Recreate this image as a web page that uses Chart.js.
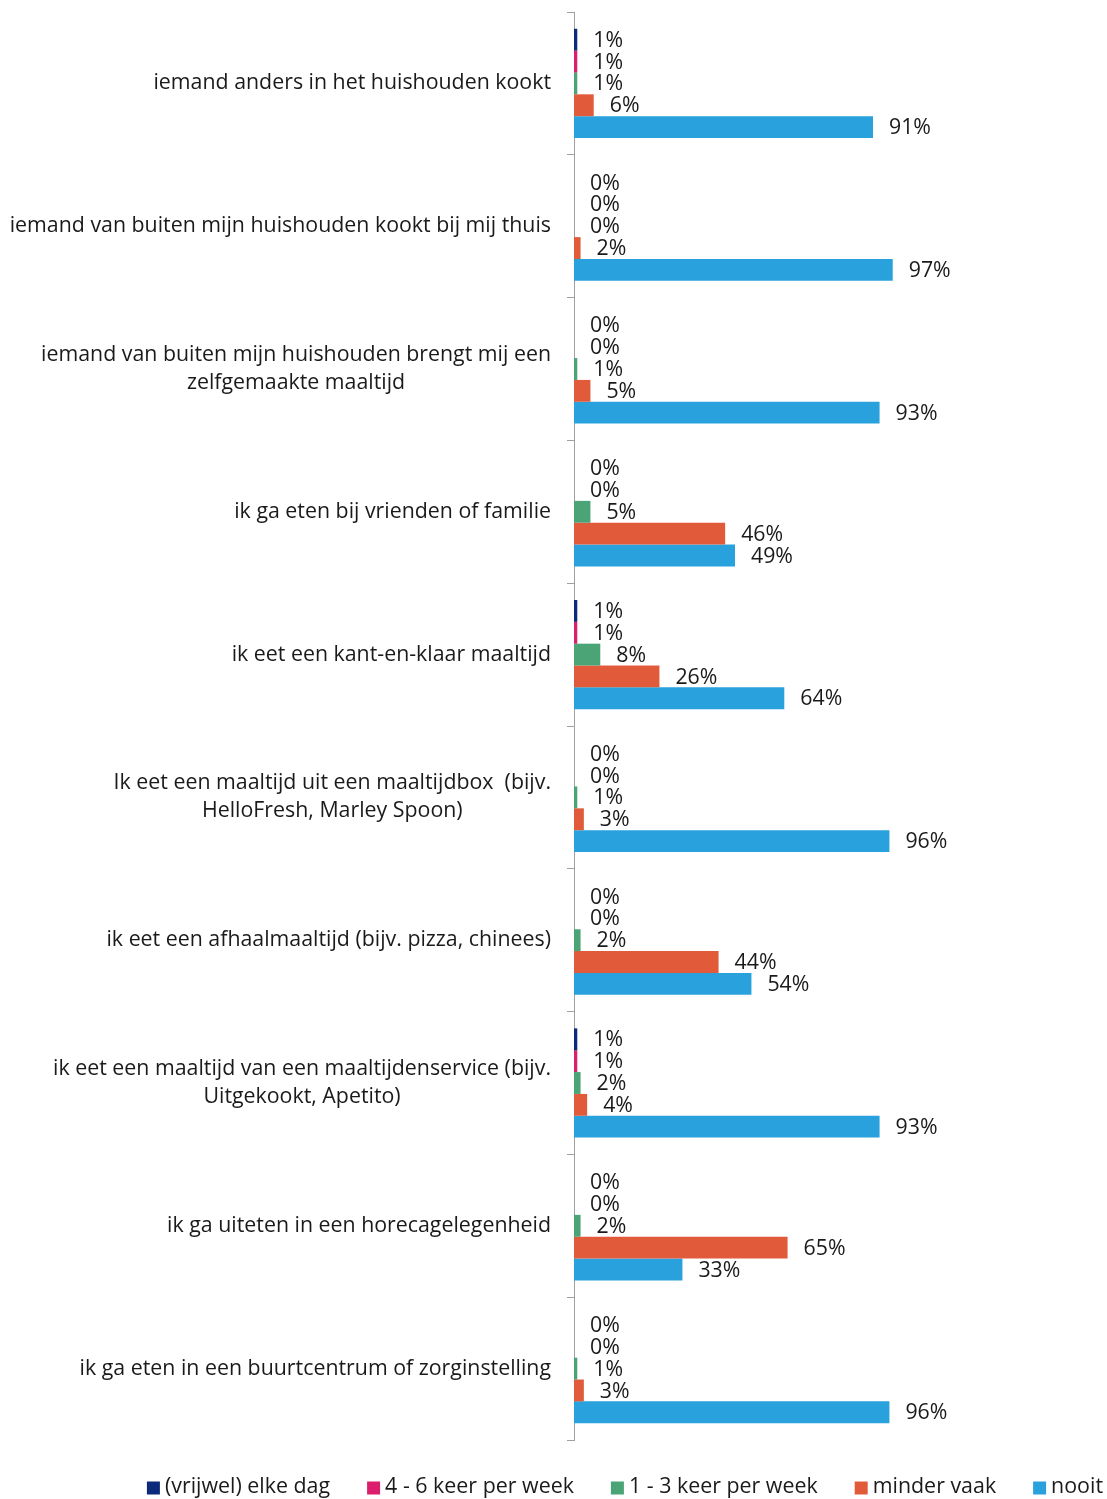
<!DOCTYPE html>
<html>
<head>
<meta charset="utf-8">
<script src="https://cdn.jsdelivr.net/npm/chart.js@4"></script>
<style>
  html, body { margin: 0; padding: 0; background: #fff; }
  #wrap { width: 1107px; height: 1499px; }
</style>
</head>
<body>
<div id="wrap"><canvas id="chart"></canvas></div>
<script>
// categorieën (meerdere regels waar het label te lang is)
const categories = [
  'iemand anders in het huishouden kookt',
  'iemand van buiten mijn huishouden kookt bij mij thuis',
  ['iemand van buiten mijn huishouden brengt mij een', 'zelfgemaakte maaltijd'],
  'ik ga eten bij vrienden of familie',
  'ik eet een kant-en-klaar maaltijd',
  ['Ik eet een maaltijd uit een maaltijdbox  (bijv.', 'HelloFresh, Marley Spoon)'],
  'ik eet een afhaalmaaltijd (bijv. pizza, chinees)',
  ['ik eet een maaltijd van een maaltijdenservice (bijv.', 'Uitgekookt, Apetito)'],
  'ik ga uiteten in een horecagelegenheid',
  'ik ga eten in een buurtcentrum of zorginstelling'
];

const seriesNames = ['(vrijwel) elke dag', '4 - 6 keer per week', '1 - 3 keer per week', 'minder vaak', 'nooit'];
const seriesColors = ['#0d2a7a', '#dc1f6c', '#4aa475', '#e15a3a', '#29a1dc'];

const elkeDag    = [1, 0, 0, 0, 1, 0, 0, 1, 0, 0];
const vierZes    = [1, 0, 0, 0, 1, 0, 0, 1, 0, 0];
const eenDrie    = [1, 0, 1, 5, 8, 1, 2, 2, 2, 1];
const minderVaak = [6, 2, 5, 46, 26, 3, 44, 4, 65, 3];
const nooit      = [91, 97, 93, 49, 64, 96, 54, 93, 33, 96];

const seriesValues = [elkeDag, vierZes, eenDrie, minderVaak, nooit];

const FONT = '"Open Sans", "Noto Sans", sans-serif';
const TEXT = '#1a1a1a';

// percentages rechts naast de balken
const valueLabels = {
  id: 'valueLabels',
  afterDatasetsDraw(chart) {
    const ctx = chart.ctx;
    ctx.save();
    ctx.font = '21.3px ' + FONT;
    ctx.fillStyle = TEXT;
    ctx.textAlign = 'left';
    ctx.textBaseline = 'middle';
    chart.data.datasets.forEach((ds, i) => {
      chart.getDatasetMeta(i).data.forEach((bar, j) => {
        ctx.fillText(ds.data[j] + '%', bar.x + 16, bar.y + 1);
      });
    });
    ctx.restore();
  }
};

// categorielabels: blok rechts uitgelijnd, regels onderling gecentreerd
const categoryLabels = {
  id: 'categoryLabels',
  afterDraw(chart) {
    const ctx = chart.ctx;
    const y = chart.scales.y;
    const right = y.right - 23;
    const lh = 28;
    ctx.save();
    ctx.font = '21.35px ' + FONT;
    ctx.fillStyle = TEXT;
    ctx.textAlign = 'center';
    ctx.textBaseline = 'middle';
    categories.forEach((c, i) => {
      const lines = Array.isArray(c) ? c : [c];
      const w = Math.max(...lines.map(l => ctx.measureText(l).width));
      const cx = right - w / 2;
      const cy = y.getPixelForValue(i);
      lines.forEach((l, k) => {
        ctx.fillText(l, cx, cy + (k - (lines.length - 1) / 2) * lh);
      });
    });
    ctx.restore();
  }
};

// legenda onderaan, rechts uitgelijnd: blokje, kleine tussenruimte, tekst
const bottomLegend = {
  id: 'bottomLegend',
  afterDraw(chart) {
    const ctx = chart.ctx;
    const box = 13, gap = 5, spacing = 37;
    const cy = chart.height - 12;
    ctx.save();
    ctx.font = '21.4px ' + FONT;
    ctx.textAlign = 'left';
    ctx.textBaseline = 'middle';
    const widths = seriesNames.map(n => ctx.measureText(n).width);
    const total = widths.reduce((a, w) => a + box + gap + w, 0) + spacing * (seriesNames.length - 1);
    let x = chart.width - 4 - total;
    seriesNames.forEach((n, i) => {
      ctx.fillStyle = seriesColors[i];
      ctx.fillRect(x, cy - box / 2 + 1, box, box);
      ctx.fillStyle = TEXT;
      ctx.fillText(n, x + box + gap, cy);
      x += box + gap + widths[i] + spacing;
    });
    ctx.restore();
  }
};

new Chart(document.getElementById('chart'), {
  type: 'bar',
  data: {
    labels: categories,
    datasets: seriesNames.map((name, i) => ({
      label: name,
      data: seriesValues[i],
      backgroundColor: seriesColors[i],
      barPercentage: 1,
      categoryPercentage: 0.765,
    })),
  },
  options: {
    indexAxis: 'y',
    responsive: true,
    maintainAspectRatio: false,
    animation: false,
    layout: { padding: { top: 12, right: 4, bottom: 59, left: 0 } },
    plugins: {
      tooltip: { enabled: false },
      legend: { display: false },
    },
    scales: {
      x: {
        display: false,
        min: 0,
        max: 161,
      },
      y: {
        afterFit: s => { s.width = 574; s.paddingTop = 0; s.paddingBottom = 0; },
        grid: {
          offset: true,
          drawOnChartArea: false,
          drawTicks: true,
          tickLength: 7,
          color: '#a0a0a0',
        },
        border: { display: true, color: '#a0a0a0', width: 1 },
        ticks: { display: false },
      },
    },
  },
  plugins: [valueLabels, categoryLabels, bottomLegend],
});
</script>
</body>
</html>
